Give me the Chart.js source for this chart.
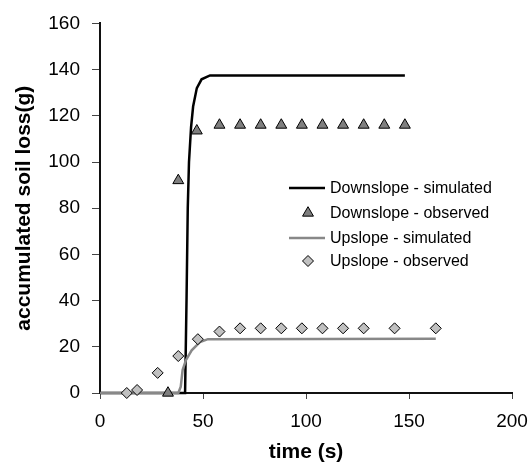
<!DOCTYPE html>
<html>
<head>
<meta charset="utf-8">
<script src="https://cdn.jsdelivr.net/npm/chart.js@4"></script>
<style>
  html, body { margin: 0; padding: 0; background: #fff; }
  #wrap { width: 532px; height: 462px; }
</style>
</head>
<body>
<div id="wrap"><canvas id="soilChart" width="532" height="462"></canvas></div>
<script>
// data (time in s, soil loss in g)
const downSimTime = [0, 41.3, 42, 42.6, 43.2, 44.2, 45.2, 47, 49.3, 53.4, 148];
const downSimLoss = [0, 0, 40, 80, 100, 115, 124, 132, 135.8, 137.5, 137.5];

const downObsTime = [33, 38, 47, 58, 68, 78, 88, 98, 108, 118, 128, 138, 148];
const downObsLoss = [0, 92, 113.5, 116, 116, 116, 116, 116, 116, 116, 116, 116, 116];

const upSimTime = [0, 38, 39.2, 40.1, 41.7, 44.5, 48.5, 52.4, 163];
const upSimLoss = [0, 0, 2.7, 9.9, 14.2, 18.5, 22, 23.3, 23.5];

const upObsTime = [13, 18, 28, 38, 47.5, 58, 68, 78, 88, 98, 108, 118, 128, 143, 163];
const upObsLoss = [0, 1.3, 8.7, 16, 23.3, 26.6, 28, 28, 28, 28, 28, 28, 28, 28, 28];

const seriesNames = ["Downslope - simulated", "Downslope - observed", "Upslope - simulated", "Upslope - observed"];
const xTicks = [0, 50, 100, 150, 200];
const yTicks = [0, 20, 40, 60, 80, 100, 120, 140, 160];

const FONT = "'Liberation Sans', Arial, sans-serif";

function toPoints(xs, ys) {
  return xs.map(function (x, i) { return { x: x, y: ys[i] }; });
}

// legend drawn inside the plot like the original
const insideLegend = {
  id: "insideLegend",
  afterDatasetsDraw(chart) {
    const ctx = chart.ctx;
    const x0 = 289, x1 = 325, tx = 330;
    const rows = [188, 213, 238, 261];
    ctx.save();
    ctx.font = "16px " + FONT;
    ctx.textBaseline = "middle";
    chart.data.datasets.forEach(function (ds, i) {
      const y = rows[i];
      if (ds.showLine) {
        ctx.strokeStyle = ds.borderColor;
        ctx.lineWidth = ds.borderWidth;
        ctx.beginPath();
        ctx.moveTo(x0, y);
        ctx.lineTo(x1, y);
        ctx.stroke();
      } else {
        ctx.fillStyle = ds.pointBackgroundColor;
        ctx.strokeStyle = ds.pointBorderColor;
        ctx.lineWidth = ds.pointBorderWidth;
        Chart.helpers.drawPoint(ctx, {
          pointStyle: ds.pointStyle,
          radius: ds.pointRadius,
          rotation: 0,
          borderWidth: ds.pointBorderWidth
        }, (x0 + x1) / 2 + 1, y);
      }
      ctx.fillStyle = "#000";
      ctx.fillText(ds.label, tx, y + 1);
    });
    ctx.restore();
  }
};

new Chart(document.getElementById("soilChart"), {
  type: "scatter",
  data: {
    datasets: [
      {
        label: seriesNames[0],
        data: toPoints(downSimTime, downSimLoss),
        showLine: true,
        borderColor: "#000",
        borderWidth: 2.5,
        pointRadius: 0,
        tension: 0,
        clip: false,
        order: 4
      },
      {
        label: seriesNames[1],
        data: toPoints(downObsTime, downObsLoss),
        showLine: false,
        pointStyle: "triangle",
        pointRadius: 6.3,
        pointBackgroundColor: "#7f7f7f",
        pointBorderColor: "#000",
        pointBorderWidth: 1,
        clip: false,
        order: 1
      },
      {
        label: seriesNames[2],
        data: toPoints(upSimTime, upSimLoss),
        showLine: true,
        borderColor: "#888",
        borderWidth: 2.5,
        pointRadius: 0,
        tension: 0,
        clip: false,
        order: 3
      },
      {
        label: seriesNames[3],
        data: toPoints(upObsTime, upObsLoss),
        showLine: false,
        pointStyle: "rectRot",
        pointRadius: 5.5,
        pointBackgroundColor: "#c0c0c0",
        pointBorderColor: "#000",
        pointBorderWidth: 1,
        clip: false,
        order: 2
      }
    ]
  },
  options: {
    responsive: false,
    animation: false,
    events: [],
    layout: { padding: { top: 20, right: 20, left: 0, bottom: 0 } },
    plugins: {
      legend: { display: false },
      tooltip: { enabled: false }
    },
    scales: {
      x: {
        type: "linear",
        min: 0,
        max: 200,
        afterBuildTicks: function (scale) {
          scale.ticks = xTicks.map(function (v) { return { value: v }; });
        },
        afterFit: function (scale) {
          scale.height = 69;
          scale.paddingLeft = 0;
          scale.paddingRight = 0;
        },
        border: { display: true, color: "#111", width: 2 },
        grid: { drawOnChartArea: false, drawTicks: true, tickLength: 6, color: "#444", tickWidth: 1 },
        ticks: { color: "#000", font: { family: FONT, size: 19 }, padding: 11, maxRotation: 0 },
        title: {
          display: true,
          text: "time (s)",
          color: "#000",
          font: { family: FONT, size: 21, weight: "bold" },
          padding: { top: 0, bottom: -3 }
        }
      },
      y: {
        type: "linear",
        min: 0,
        max: 160,
        afterBuildTicks: function (scale) {
          scale.ticks = yTicks.map(function (v) { return { value: v }; });
        },
        afterFit: function (scale) { scale.width = 100; },
        border: { display: true, color: "#111", width: 2 },
        grid: { drawOnChartArea: false, drawTicks: true, tickLength: 8, color: "#444", tickWidth: 1 },
        ticks: { color: "#000", font: { family: FONT, size: 19 }, padding: 12 },
        title: {
          display: true,
          text: "accumulated soil loss(g)",
          color: "#000",
          font: { family: FONT, size: 21, weight: "bold" },
          padding: { top: 12, bottom: 0 }
        }
      }
    }
  },
  plugins: [insideLegend]
});
</script>
</body>
</html>
